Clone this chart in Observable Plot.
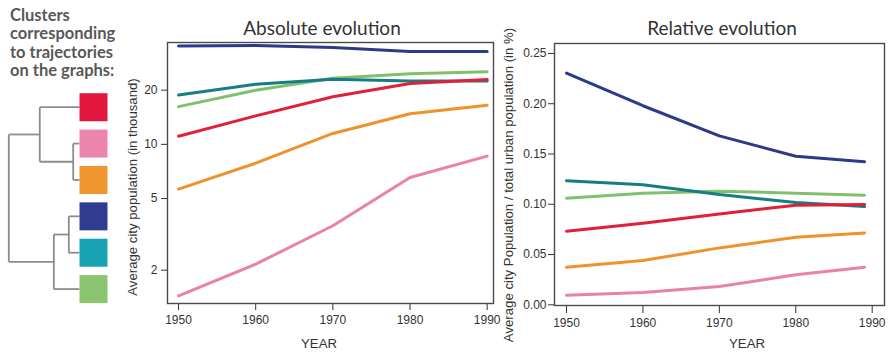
<!DOCTYPE html>
<html><head><meta charset="utf-8">
<script src="https://cdn.jsdelivr.net/npm/d3@7"></script>
<script src="https://cdn.jsdelivr.net/npm/@observablehq/plot@0.6"></script>
<style>
body{margin:0;background:#fff;}
#fig{position:relative;width:891px;height:352px;overflow:hidden;background:#fff;}
.t{position:absolute;white-space:nowrap;transform:translate(-50%,-50%);}
.ax{font-family:'Liberation Sans',Arial,sans-serif;font-size:13.2px;color:#333;}
.ttl{font-family:Lato,'Open Sans',sans-serif;font-size:19px;color:#333;}
.lg{position:absolute;left:10px;white-space:nowrap;font-family:Lato,sans-serif;font-size:16.5px;font-weight:700;line-height:17px;height:17px;color:#585858;}
</style></head><body><div id="fig"></div>
<script>
// ---- data ----
const clusters = ["C1", "C2", "C3", "C4", "C5", "C6"];           // red, pink, orange, navy, teal, green
const boxColors = ["#e3173e", "#ec85ad", "#f0962f", "#2f3d90", "#17a3b4", "#8cc46f"];
const lineColors = ["#e01f38", "#e981ac", "#f0922b", "#2c3a8c", "#177d84", "#80c06c"];
const drawOrder = ["C6", "C5", "C4", "C2", "C3", "C1"];
const legendLines = ["Clusters", "corresponding", "to trajectories", "on the graphs:"];

const yearsAbs = [1950, 1960, 1970, 1980, 1990];
const yearsRel = [1950, 1960, 1970, 1980, 1989];
const yearTicks = [1950, 1960, 1970, 1980, 1990];
const absTicks = [2, 5, 10, 20];
const relTicks = [0, 0.05, 0.10, 0.15, 0.20, 0.25];

// Absolute evolution (average city population, thousands)
const absRed    = [11.1, 14.4, 18.4, 21.8, 22.9];
const absPink   = [1.44, 2.16, 3.53, 6.55, 8.6];
const absOrange = [5.64, 7.86, 11.5, 14.8, 16.5];
const absNavy   = [35.2, 35.4, 34.5, 32.8, 32.8];
const absTeal   = [18.8, 21.6, 23.0, 22.5, 22.5];
const absGreen  = [16.2, 20.0, 23.3, 24.7, 25.3];

// Relative evolution (share of total urban population)
const relRed    = [0.0732, 0.0811, 0.0904, 0.0990, 0.0997];
const relPink   = [0.0096, 0.0122, 0.0182, 0.0298, 0.0374];
const relOrange = [0.0374, 0.0440, 0.0566, 0.0672, 0.0715];
const relNavy   = [0.2305, 0.1980, 0.1680, 0.1477, 0.1424];
const relTeal   = [0.1235, 0.1195, 0.1096, 0.1017, 0.0977];
const relGreen  = [0.1060, 0.1110, 0.1130, 0.1110, 0.1090];

// Dendrogram merges (R-style: m1..m5), heights normalised to root = 1
const mergeA = ["C2", "C4", "m2", "C1", "m4"];
const mergeB = ["C3", "C5", "C6", "m1", "m3"];
const mergeHeight = [0.089, 0.151, 0.363, 0.562, 1.0];

// ---- build tables ----
const absList = [absRed, absPink, absOrange, absNavy, absTeal, absGreen];
const relList = [relRed, relPink, relOrange, relNavy, relTeal, relGreen];
const absRows = drawOrder.flatMap(c => yearsAbs.map((year, i) => ({cluster: c, year, value: absList[clusters.indexOf(c)][i]})));
const relRows = drawOrder.flatMap(c => yearsRel.map((year, i) => ({cluster: c, year, value: relList[clusters.indexOf(c)][i]})));

const nodes = {};
clusters.forEach((c, i) => nodes[c] = {y: i, h: 0});
const links = [];
mergeA.forEach((a, k) => {
  const A = nodes[a], B = nodes[mergeB[k]], h = mergeHeight[k];
  links.push({x1: h, y1: A.y, x2: h, y2: B.y});
  links.push({x1: A.h, y1: A.y, x2: h, y2: A.y});
  links.push({x1: B.h, y1: B.y, x2: h, y2: B.y});
  nodes["m" + (k + 1)] = {y: (A.y + B.y) / 2, h};
});

const fig = document.getElementById("fig");
const axisStyle = {fontFamily: "'Liberation Sans', Arial, sans-serif", fontSize: "12px", color: "#333", background: "transparent", overflow: "visible"};

// ---- dendrogram ----
const dendro = Plot.plot({
  width: 120, height: 352, margin: 0,
  x: {domain: [1, 0], range: [8.3, 79], axis: null},
  y: {domain: [0, 5], range: [106.7, 288.6], axis: null},
  color: {domain: clusters, range: boxColors},
  style: {background: "transparent"},
  marks: [
    Plot.link(links, {x1: "x1", y1: "y1", x2: "x2", y2: "y2", stroke: "#8c8c8c", strokeWidth: 1.8}),
    Plot.dot(clusters, {x: () => 0, y: (d, i) => i, symbol: "square", r: 15.8, dx: 14, fill: d => d, stroke: null})
  ]
});

// ---- absolute chart ----
const absPlot = Plot.plot({
  width: 375, height: 352,
  marginLeft: 47, marginRight: 2, marginTop: 42, marginBottom: 49,
  x: {domain: [1948.57, 1990.82]},
  y: {type: "log", domain: [1.306, 36.8]},
  color: {domain: clusters, range: lineColors},
  style: axisStyle,
  marks: [
    Plot.axisX({ticks: yearTicks, tickFormat: d => String(d), tickSize: 7, tickPadding: 5, label: null, stroke: "#333"}),
    Plot.axisY({ticks: absTicks, tickFormat: d => String(d), tickSize: 6, tickPadding: 4, label: null, stroke: "#333"}),
    Plot.lineY(absRows, {x: "year", y: "value", z: "cluster", stroke: "cluster", strokeWidth: 3, strokeLinejoin: "round"}),
    Plot.frame({stroke: "#4a4a4a", strokeWidth: 1.4})
  ]
});

// ---- relative chart ----
const relPlot = Plot.plot({
  width: 396, height: 352,
  marginLeft: 59, marginRight: 7, marginTop: 43, marginBottom: 47,
  x: {domain: [1948.43, 1991.61]},
  y: {domain: [-0.0007, 0.2599]},
  color: {domain: clusters, range: lineColors},
  style: axisStyle,
  marks: [
    Plot.axisX({ticks: yearTicks, tickFormat: d => String(d), tickSize: 8, tickPadding: 5, label: null, stroke: "#333"}),
    Plot.axisY({ticks: relTicks, tickFormat: d3.format(".2f"), tickSize: 6, tickPadding: 2, label: null, stroke: "#333"}),
    Plot.lineY(relRows, {x: "year", y: "value", z: "cluster", stroke: "cluster", strokeWidth: 3, strokeLinejoin: "round"}),
    Plot.frame({stroke: "#4a4a4a", strokeWidth: 1.4})
  ]
});

[[dendro, 0], [absPlot, 120], [relPlot, 495]].forEach(([el, left]) => {
  el.style.position = "absolute";
  el.style.left = left + "px";
  el.style.top = "0px";
  fig.appendChild(el);
});

// ---- texts ----
function addText(cls, text, x, y, rotate) {
  const d = document.createElement("div");
  d.className = "t " + cls;
  d.textContent = text;
  d.style.left = x + "px";
  d.style.top = y + "px";
  if (rotate) d.style.transform = "translate(-50%,-50%) rotate(-90deg)";
  fig.appendChild(d);
}
legendLines.forEach((line, i) => {
  const d = document.createElement("div");
  d.className = "lg";
  d.textContent = line;
  d.style.top = (7 + i * 18.4) + "px";
  fig.appendChild(d);
});

addText("ttl", "Absolute evolution", 322, 27);
addText("ttl", "Relative evolution", 722, 27);
addText("ax", "Average city population (in thousand)", 131.5, 187, true);
addText("ax", "Average city Population / total urban population (in %)", 508, 185, true);
addText("ax", "YEAR", 319, 343);
addText("ax", "YEAR", 747, 343);
</script></body></html>
